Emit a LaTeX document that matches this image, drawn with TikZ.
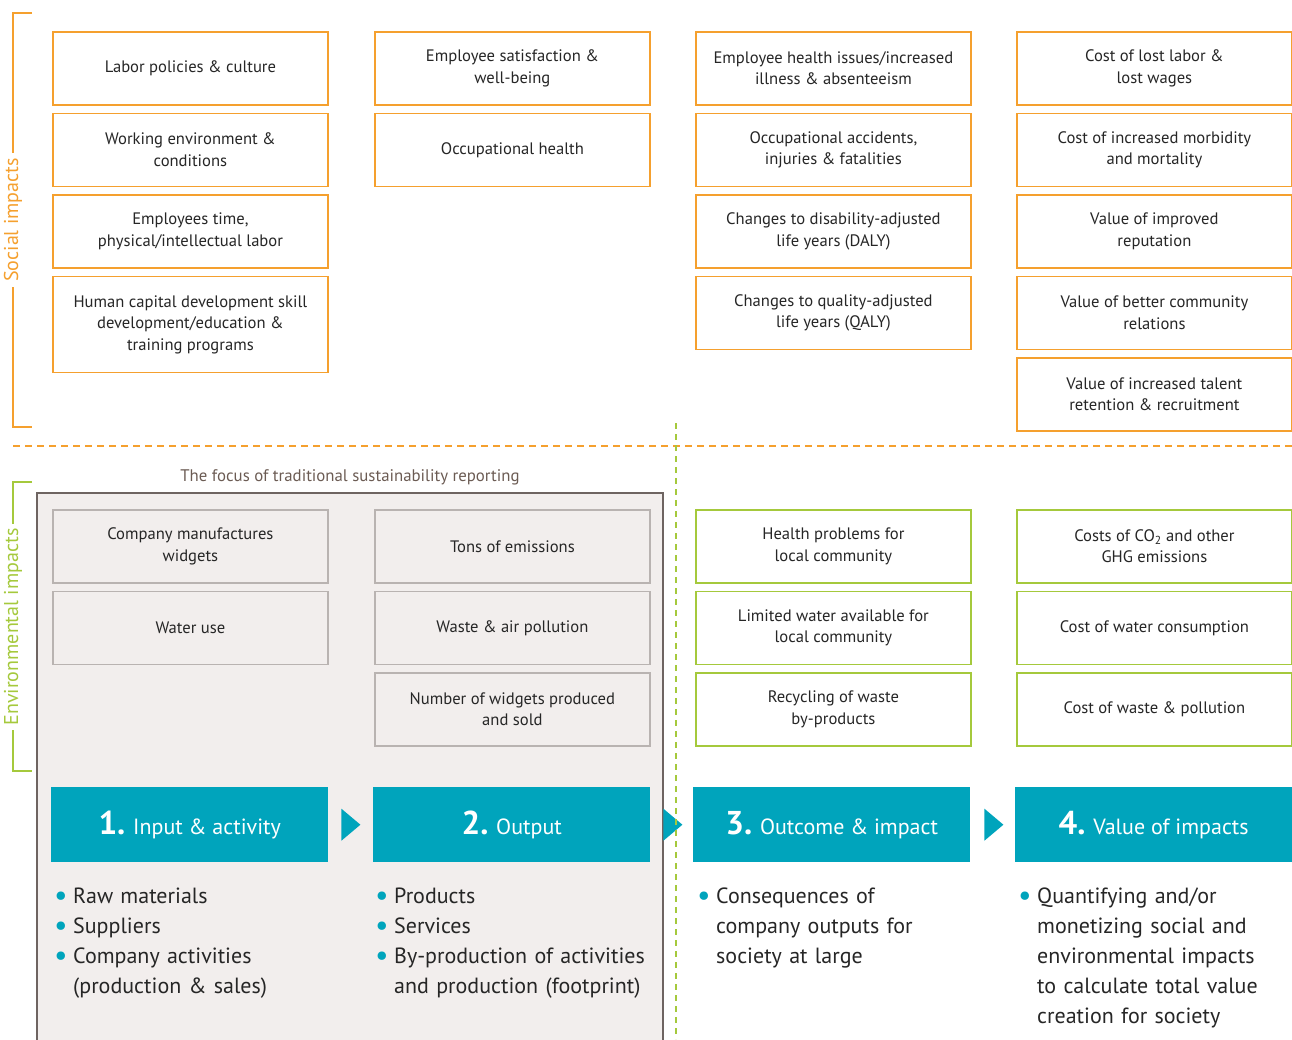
\documentclass[tikz,border=0pt]{standalone}
\usepackage{fontspec}
\setmainfont{PT Sans}
\usetikzlibrary{calc}
\definecolor{orgc}{HTML}{F5A02E}
\definecolor{grnc}{HTML}{A5C93C}
\definecolor{bluec}{HTML}{00A4BC}
\definecolor{txtc}{HTML}{262626}
\definecolor{grayfill}{HTML}{F2EEED}
\definecolor{grayline}{HTML}{B9B3B1}
\definecolor{darkline}{HTML}{6E6461}
\definecolor{focusc}{HTML}{6B5B53}
\newcommand\bitem[1]{\par\noindent\hangindent=19pt\hangafter=1\makebox[19pt][l]{\raisebox{-2.5pt}{\textcolor{bluec}{\fontsize{30}{20}\selectfont•}}}#1\par}
\begin{document}
\begin{tikzpicture}[x=1pt,y=-1pt,
  cell/.style={anchor=north west,minimum width=275pt,minimum height=73pt,inner sep=0pt,
    align=center,text=txtc,font=\fontsize{16.6}{21.5}\selectfont,line width=1.8pt,fill=white},
  ocell/.style={cell,draw=orgc},
  gcell/.style={cell,draw=grnc},
  ycell/.style={cell,draw=grayline,fill=grayfill},
  hdr/.style={anchor=north west,minimum width=277pt,minimum height=75pt,inner sep=0pt,
    fill=bluec,text=white,font=\fontsize{22}{26}\selectfont},
  tri/.style={fill=bluec},
  blist/.style={anchor=north west,inner sep=0pt,text width=270pt,text=txtc,
    font=\fontsize{22}{30}\selectfont},
  sidelbl/.style={rotate=90,fill=white,inner sep=5pt,font=\fontsize{20}{24}\selectfont}
]
\useasboundingbox (0,0) rectangle (1292,1039);
% gray focus region
\fill[grayfill] (37,493) rectangle (663,1045);
\draw[darkline,line width=1.5pt] (37,1045) -- (37,493) -- (663,493) -- (663,1045);
\node[text=focusc,font=\fontsize{16.8}{20}\selectfont] (focus) at (350,477) {The focus of traditional sustainability reporting};

% brackets
\draw[orgc,line width=1.8pt] (32,13) -- (13,13) -- (13,427) -- (32,427);
\node[sidelbl,text=orgc] (soc) at (13,220) {Social impacts};
\draw[grnc,line width=1.8pt] (32,482) -- (13,482) -- (13,771) -- (32,771);
\node[sidelbl,text=grnc] (env) at (13,627) {Environmental impacts};

% dividers
\draw[orgc,line width=1.6pt,dash pattern=on 7pt off 5pt] (13,446) -- (1292,446);

% Social column 1
\node[ocell] (a1) at (52,31) {Labor policies \& culture};
\node[ocell] (a2) at (52,112.5) {Working environment \&\\conditions};
\node[ocell] (a3) at (52,194) {Employees time,\\physical/intellectual labor};
\node[ocell,minimum height=96pt] (a4) at (52,275.5) {Human capital development skill\\development/education \&\\training programs};
% column 2
\node[ocell] (b1) at (374,31) {Employee satisfaction \&\\well-being};
\node[ocell] (b2) at (374,112.5) {Occupational health};
% column 3
\node[ocell] (c1) at (695,31) {Employee health issues/increased\\illness \& absenteeism};
\node[ocell] (c2) at (695,112.5) {Occupational accidents,\\injuries \& fatalities};
\node[ocell] (c3) at (695,194) {Changes to disability-adjusted\\life years (DALY)};
\node[ocell] (c4) at (695,275.5) {Changes to quality-adjusted\\life years (QALY)};
% column 4
\node[ocell] (d1) at (1016,31) {Cost of lost labor \&\\lost wages};
\node[ocell] (d2) at (1016,112.5) {Cost of increased morbidity\\and mortality};
\node[ocell] (d3) at (1016,194) {Value of improved\\reputation};
\node[ocell] (d4) at (1016,275.5) {Value of better community\\relations};
\node[ocell] (d5) at (1016,357) {Value of increased talent\\retention \& recruitment};

% Environmental
\node[ycell] (e1) at (52,509) {Company manufactures\\widgets};
\node[ycell] (e2) at (52,590.5) {Water use};
\node[ycell] (f1) at (374,509) {Tons of emissions};
\node[ycell] (f2) at (374,590.5) {Waste \& air pollution};
\node[ycell] (f3) at (374,672) {Number of widgets produced\\and sold};
\node[gcell] (g1) at (695,509) {Health problems for\\local community};
\node[gcell] (g2) at (695,590.5) {Limited water available for\\local community};
\node[gcell] (g3) at (695,672) {Recycling of waste\\by-products};
\node[gcell] (h1) at (1016,509) {Costs of CO\textsubscript{2} and other\\GHG emissions};
\node[gcell] (h2) at (1016,590.5) {Cost of water consumption};
\node[gcell] (h3) at (1016,672) {Cost of waste \& pollution};

% headers
\node[hdr] (p1) at (51,787) {{\fontsize{33}{33}\selectfont\bfseries 1.} Input \& activity};
\node[hdr] (p2) at (373,787) {{\fontsize{33}{33}\selectfont\bfseries 2.} Output};
\node[hdr] (p3) at (693,787) {{\fontsize{33}{33}\selectfont\bfseries 3.} Outcome \& impact};
\node[hdr] (p4) at (1015,787) {{\fontsize{33}{33}\selectfont\bfseries 4.} Value of impacts};
\fill[tri] ($(p1.east)+(13,-16)$) -- ($(p1.east)+(13,16)$) -- ($(p1.east)+(32,0)$) -- cycle;
\fill[tri] ($(p2.east)+(13,-16)$) -- ($(p2.east)+(13,16)$) -- ($(p2.east)+(32,0)$) -- cycle;
\fill[tri] ($(p3.east)+(14,-16)$) -- ($(p3.east)+(14,16)$) -- ($(p3.east)+(33,0)$) -- cycle;

\draw[grnc,line width=1.6pt,dash pattern=on 6pt off 5pt] (676,423) -- (676,1039);

% bullet lists
\node[blist] (l1) at (54,873) {\raggedright\bitem{Raw materials}\bitem{Suppliers}\bitem{Company activities\newline(production \& sales)}};
\node[blist] (l2) at (375,873) {\raggedright\bitem{Products}\bitem{Services}\bitem{By-production of activities\newline and production (footprint)}};
\node[blist] (l3) at (697,873) {\raggedright\bitem{Consequences of\newline company outputs for\newline society at large}};
\node[blist] (l4) at (1018,873) {\raggedright\bitem{Quantifying and/or\newline monetizing social and\newline environmental impacts\newline to calculate total value\newline creation for society}};
\end{tikzpicture}
\end{document}
